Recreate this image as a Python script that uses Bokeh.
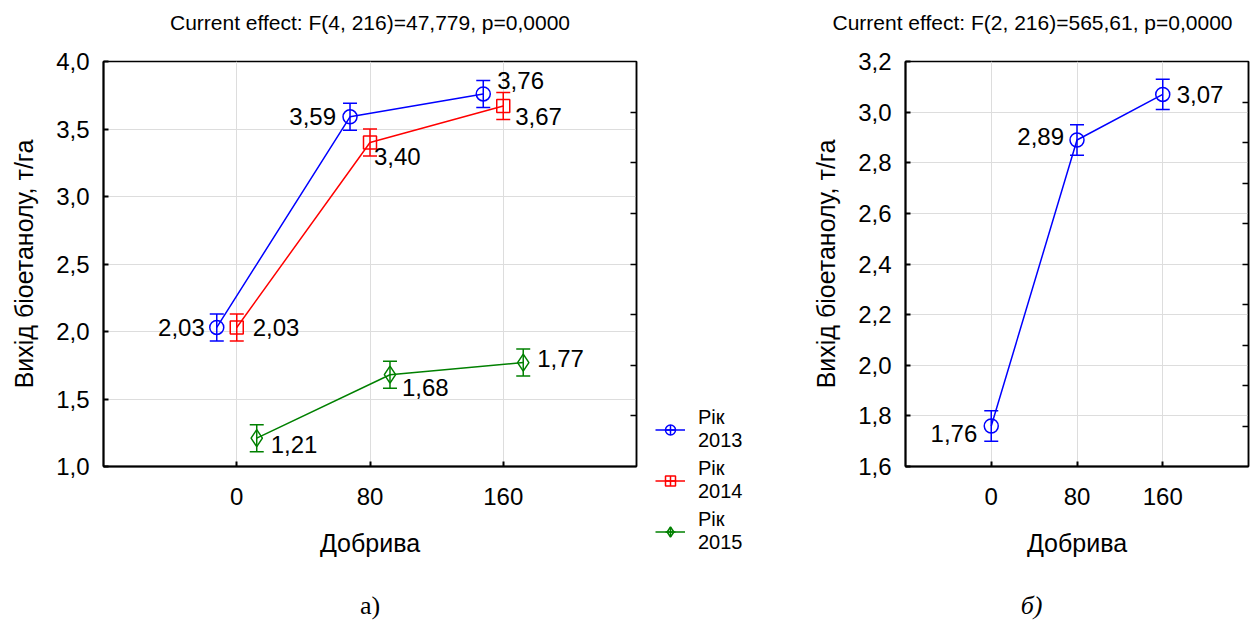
from bokeh.plotting import figure
from bokeh.models import (FactorRange, Range1d, LinearAxis, FixedTicker, Whisker, TeeHead,
                          ColumnDataSource, Legend, LegendItem, CustomJSTickFormatter)
from bokeh.transform import dodge
from bokeh.layouts import row, column
from bokeh.embed import file_html
from bokeh.resources import INLINE
from bokeh.core.properties import value

# ---------------- data ----------------
fertilizer = ["0", "80", "160"]
year_labels = ["Рік\n2013", "Рік\n2014", "Рік\n2015"]
yield_2013 = [2.03, 3.59, 3.76]
err_2013 = [0.10, 0.10, 0.10]
yield_2014 = [2.03, 3.40, 3.67]
err_2014 = [0.10, 0.10, 0.10]
yield_2015 = [1.21, 1.68, 1.77]
err_2015 = [0.10, 0.10, 0.10]
yield_mean = [1.76, 2.89, 3.07]
err_mean = [0.06, 0.06, 0.06]
title_a = "Current effect: F(4, 216)=47,779, p=0,0000"
title_b = "Current effect: F(2, 216)=565,61, p=0,0000"
y_ticks_a = [1.0, 1.5, 2.0, 2.5, 3.0, 3.5, 4.0]
y_ticks_b = [1.6, 1.8, 2.0, 2.2, 2.4, 2.6, 2.8, 3.0, 3.2]
y_label = "Вихід біоетанолу, т/га"
x_label = "Добрива"
caption_a = "а)"
caption_b = "б)"

# ---------------- style / layout ----------------
FONT = "Liberation Sans"
SERIF = "Liberation Serif"
FONT_VALUE = value(FONT)
GRID = "#dddddd"
PAGE_W = 1250
TOP_H = 47          # strip holding the titles
MID_TOP = 14        # border above plot frames
FRAME_H = 405
MID_BOTTOM = 110    # border below plot frames (axis ticks + label)
BOT_H = 44          # strip holding the captions
PA_LEFT, PA_W, PA_RIGHT = 103, 533, 10
PL_W = 144
PB_LEFT, PB_W, PB_RIGHT = 115, 343, 2
TITLE_X = [PA_LEFT + PA_W / 2, 1032]
TITLE_Y = 22
CAPTION_X = [PA_LEFT + PA_W / 2, 1031]
CAPTION_Y = 29
LEGEND_LOC = (9, 22)

series_style = [
    dict(color="#0000ff", marker="circle", size=14, dodge=-0.15),
    dict(color="#ff0000", marker="square", size=13, dodge=0.0),
    dict(color="#008000", marker="diamond", size=17, dodge=0.15),
]
# label placement per point: (align, x_offset, y_offset)
label_pos_a = [
    [("right", -12, 0), ("right", -14, 0), ("left", 14, -13)],
    [("left", 16, 0), ("left", 4, 14), ("left", 12, 10)],
    [("left", 14, 6), ("left", 12, 13), ("left", 14, -4)],
]
label_pos_b = [("right", -14, 7), ("right", -13, -3), ("left", 14, 0)]


def fmt(v, d=2):
    return f"{v:.{d}f}".replace(".", ",")


def strip(height):
    s = figure(frame_width=PAGE_W, frame_height=height, min_border=0,
               x_range=Range1d(0, PAGE_W), y_range=Range1d(height, 0),
               x_axis_type=None, y_axis_type=None, output_backend="svg",
               toolbar_location=None, background_fill_color="white",
               border_fill_color="white")
    s.outline_line_color = None
    return s


def base_fig(frame_w, y_lo, y_hi, y_ticks, left_border, right_border, n_right):
    p = figure(x_range=FactorRange(*fertilizer, range_padding=0.5, range_padding_units="absolute"),
               y_range=Range1d(y_lo, y_hi), frame_width=frame_w, frame_height=FRAME_H,
               min_border_left=left_border, min_border_right=right_border,
               min_border_top=MID_TOP, min_border_bottom=MID_BOTTOM,
               output_backend="svg", toolbar_location=None,
               background_fill_color="white", border_fill_color="white")
    p.outline_line_color = "black"
    p.outline_line_width = 1.5
    p.outline_line_alpha = 1.0
    p.xgrid.grid_line_color = GRID
    p.ygrid.grid_line_color = GRID
    p.ygrid.ticker = FixedTicker(ticks=y_ticks)
    p.yaxis.ticker = FixedTicker(ticks=y_ticks)
    p.yaxis.formatter = CustomJSTickFormatter(code="return tick.toFixed(1).replace('.', ',');")
    for ax in (p.xaxis[0], p.yaxis[0]):
        ax.axis_line_width = 2
        ax.axis_line_color = "black"
        ax.major_tick_in = 5
        ax.major_tick_out = 0
        ax.major_tick_line_width = 2
        ax.minor_tick_line_color = None
        ax.major_label_text_font = FONT
        ax.major_label_text_font_size = "24px"
        ax.major_label_text_color = "black"
        ax.axis_label_text_font = FONT
        ax.axis_label_text_font_size = "25px"
        ax.axis_label_text_font_style = "normal"
        ax.axis_label_text_color = "black"
    p.xaxis.major_label_standoff = 21
    p.xaxis.axis_label = x_label
    p.xaxis.axis_label_standoff = 21
    p.yaxis.major_label_standoff = 14
    p.yaxis.axis_label = y_label
    p.yaxis.axis_label_standoff = 15
    # decorative right axis with inward ticks
    p.extra_y_ranges = {"r": Range1d(0, n_right)}
    rax = LinearAxis(y_range_name="r", ticker=FixedTicker(ticks=list(range(1, n_right))),
                     formatter=CustomJSTickFormatter(code="return '';"),
                     major_tick_in=6, major_tick_out=0, minor_tick_line_color=None,
                     axis_line_width=1.5, major_tick_line_width=1.5, major_label_standoff=0)
    p.add_layout(rax, "right")
    return p


def draw_series(p, vals, errs, st, label_pos):
    src = ColumnDataSource(dict(x=fertilizer, y=vals,
                                lo=[v - e for v, e in zip(vals, errs)],
                                hi=[v + e for v, e in zip(vals, errs)]))
    xs = dodge("x", st["dodge"], range=p.x_range)
    c = st["color"]
    p.line(x=xs, y="y", source=src, line_color=c, line_width=1.5)
    w = Whisker(base=dodge("x", st["dodge"], range=p.x_range), upper="hi", lower="lo", source=src,
                line_color=c, line_width=1.5,
                upper_head=TeeHead(size=14, line_color=c, line_width=1.5),
                lower_head=TeeHead(size=14, line_color=c, line_width=1.5))
    p.add_layout(w)
    p.scatter(x=xs, y="y", source=src, marker=st["marker"], size=st["size"],
              fill_color=None, line_color=c, line_width=1.5)
    for i in range(len(vals)):
        al, dx, dy = label_pos[i]
        s1 = ColumnDataSource(dict(x=[fertilizer[i]], y=[vals[i]], t=[fmt(vals[i])]))
        p.text(x=dodge("x", st["dodge"], range=p.x_range), y="y", text="t", source=s1,
               x_offset=dx, y_offset=dy, text_align=al, text_baseline="middle",
               text_font=FONT_VALUE, text_font_size="24px", text_color="black")


# ---------- titles strip ----------
top = strip(TOP_H)
top.text(x=TITLE_X, y=[TITLE_Y, TITLE_Y], text=[title_a, title_b], text_align="center",
         text_baseline="middle", text_font=FONT_VALUE, text_font_size="21px", text_color="black")

# ---------- chart a ----------
pa = base_fig(PA_W, 1.0, 4.0, y_ticks_a, PA_LEFT, PA_RIGHT, 8)
for vals, errs, st, lp in zip([yield_2013, yield_2014, yield_2015],
                              [err_2013, err_2014, err_2015],
                              series_style, label_pos_a):
    draw_series(pa, vals, errs, st, lp)

# ---------- legend panel (own canvas, frame covers the legend area) ----------
pl = figure(frame_width=PL_W, frame_height=FRAME_H + MID_BOTTOM, min_border_left=0,
            min_border_right=0, min_border_top=MID_TOP, min_border_bottom=0,
            x_range=Range1d(0, 1), y_range=Range1d(0, 1), x_axis_type=None, y_axis_type=None,
            output_backend="svg", toolbar_location=None,
            background_fill_color="white", border_fill_color="white")
pl.outline_line_color = None
items = []
nan = float("nan")
for st, lab in zip(series_style, year_labels):
    c = st["color"]
    r_line = pl.line(x=[nan], y=[nan], line_color=c, line_width=1.5)
    r_bar = pl.scatter(x=[nan], y=[nan], marker="cross", size=22, line_color=c, line_width=1.5)
    r_mk = pl.scatter(x=[nan], y=[nan], marker=st["marker"], size=st["size"],
                      fill_color=None, line_color=c, line_width=1.5)
    items.append(LegendItem(label=lab, renderers=[r_line, r_bar, r_mk]))
legend = Legend(items=items, location=LEGEND_LOC, glyph_width=30, glyph_height=25,
                label_text_font=FONT, label_text_font_size="20px", label_text_color="black",
                label_standoff=13, label_height=22, spacing=5, padding=0, margin=0,
                border_line_alpha=0, background_fill_alpha=0)
pl.add_layout(legend, "center")

# ---------- chart b ----------
pb = base_fig(PB_W, 1.6, 3.2, y_ticks_b, PB_LEFT, PB_RIGHT, 10)
draw_series(pb, yield_mean, err_mean, dict(series_style[0], dodge=0.0), label_pos_b)

# ---------- captions strip ----------
bot = strip(BOT_H)
bot.text(x=CAPTION_X[:1], y=[CAPTION_Y], text=[caption_a], text_align="center",
         text_baseline="middle", text_font=value(SERIF), text_font_size="26px",
         text_color="black")
bot.text(x=CAPTION_X[1:], y=[CAPTION_Y], text=[caption_b], text_align="center",
         text_baseline="middle", text_font=value(SERIF), text_font_size="26px",
         text_font_style="italic", text_color="black")

layout = column(top, row(pa, column(pl), pb), bot)
open("out.html", "w").write(file_html(layout, INLINE))
